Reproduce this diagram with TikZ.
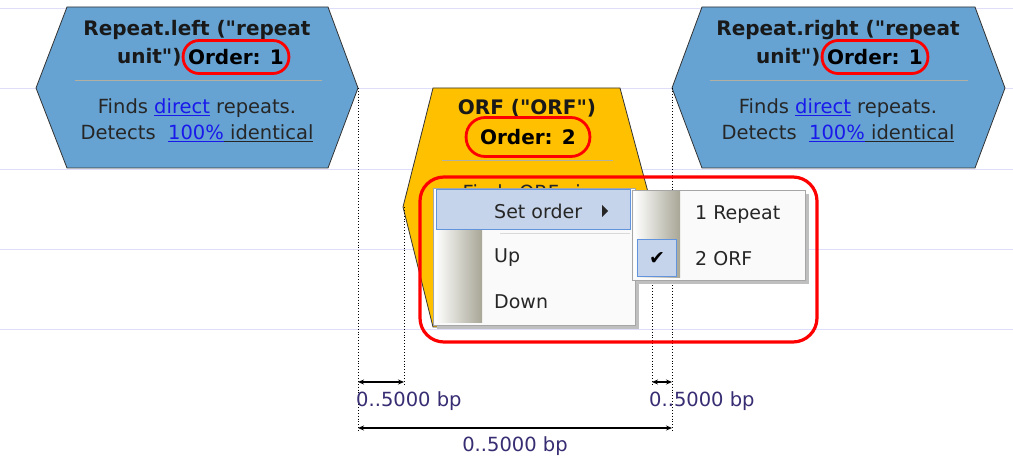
\documentclass[tikz,border=0pt]{standalone}
\usepackage{fontspec}
\setmainfont{DejaVu Sans}
\usetikzlibrary{arrows.meta}
\definecolor{unitblue}{RGB}{102,163,211}
\definecolor{orfgold}{RGB}{255,192,0}
\definecolor{gridline}{RGB}{222,222,250}
\definecolor{sepline}{RGB}{178,176,160}
\definecolor{linkblue}{RGB}{25,25,235}
\definecolor{menubg}{RGB}{250,250,250}
\definecolor{menuhi}{RGB}{197,212,234}
\definecolor{menuframe}{RGB}{98,148,222}
\definecolor{gutterdark}{RGB}{168,166,150}
\definecolor{bptext}{RGB}{55,45,115}
\newcommand{\qd}{\textquotedbl}

\begin{document}
\begin{tikzpicture}[x=1pt,y=-1pt,
  every node/.style={inner sep=0pt},
  titletext/.style={font=\fontsize{20}{23}\selectfont\bfseries, text=black!90},
  bodytext/.style={font=\fontsize{19.5}{22}\selectfont, text=black!85},
  menutext/.style={font=\fontsize{19}{22}\selectfont, text=black!85, anchor=west},
  ordertag/.style={draw=red, line width=2.8pt, rounded corners=16pt, inner xsep=5pt,
    minimum height=33pt, font=\fontsize{20}{23}\selectfont\bfseries},
  unitbox/.style={fill=unitblue, draw=black!80, line width=0.8pt},
  orfbox/.style={fill=orfgold, draw=black!80, line width=0.8pt},
  dotline/.style={dotted, line width=0.9pt},
  dimarrow/.style={{Stealth[length=6pt,width=5pt]}-{Stealth[length=6pt,width=5pt]}, line width=1.2pt},
  bplabel/.style={font=\fontsize{19.5}{22}\selectfont, text=bptext}]
\useasboundingbox (0,0) rectangle (1013,457);
\fill[white] (0,0) rectangle (1013,457);
\foreach \gy in {9,89,170,250,330}
  \draw[gridline, line width=1pt] (0,\gy) -- (1013,\gy);

\draw[unitbox] (36,88) -- (67,7) -- (328,7) -- (358,88) -- (328,168) -- (67,168) -- cycle;
\draw[unitbox] (672,88) -- (702,7) -- (975,7) -- (1005,88) -- (975,168) -- (702,168) -- cycle;
\draw[orfbox] (403,207) -- (433,88) -- (620,88) -- (652,207) -- (620,327) -- (433,327) -- cycle;

\node[titletext] (lt1) at (197,30) {Repeat.left (\qd repeat};
\node[ordertag] (lord) at (236,57) {Order: 1};
\node[titletext, anchor=east] (lt2) at (lord.west) {unit\qd)};
\draw[sepline, line width=1pt] (75,81) -- (322,81);
\node[bodytext] (lb1) at (197,108) {Finds \textcolor{linkblue}{\underline{direct}} repeats.};
\node[bodytext] (lb2) at (197,133) {Detects \ \textcolor{linkblue}{\underline{100\%}}\underline{\ identical}};

\node[titletext] (rt1) at (838,30) {Repeat.right (\qd repeat};
\node[ordertag] (rord) at (875,57) {Order: 1};
\node[titletext, anchor=east] (rt2) at (rord.west) {unit\qd)};
\draw[sepline, line width=1pt] (710,81) -- (968,81);
\node[bodytext] (rb1) at (838,108) {Finds \textcolor{linkblue}{\underline{direct}} repeats.};
\node[bodytext] (rb2) at (838,133) {Detects \ \textcolor{linkblue}{\underline{100\%}}\underline{\ identical}};

\node[titletext] (ot1) at (527,108) {ORF (\qd ORF\qd)};
\node[ordertag, inner xsep=14pt, minimum height=39pt, rounded corners=19pt] (oord) at (528,137) {Order: 2};
\draw[sepline, line width=1pt] (442,161) -- (613,161);
\begin{scope}
\clip (410,165) rectangle (650,188);
\node[bodytext] (ob1) at (528,192) {Finds ORFs in};
\end{scope}

\coordinate (lr) at (358,88);
\coordinate (ol) at (404,207);
\coordinate (or) at (652,207);
\coordinate (rl) at (672,88);
\coordinate (lrup) at (358,382);
\coordinate (olup) at (404,382);
\coordinate (orup) at (652,382);
\coordinate (rlup) at (672,382);
\coordinate (lrlow) at (358,428);
\coordinate (rllow) at (672,428);
\draw[dotline] (lr) -- (358,432);
\draw[dotline] (ol) -- (404,386);
\draw[dotline] (or) -- (652,386);
\draw[dotline] (rl) -- (672,432);

\fill[black!25] (437,192) rectangle (639,329);
\draw[fill=menubg, draw=black!35] (433,188) rectangle (635,325);
\shade[left color=white, right color=gutterdark] (435,190) rectangle (482,323);
\draw[fill=menuhi, draw=menuframe, line width=1pt] (436,190) rectangle (630,230);
\draw[black!15] (500,233) -- (630,233);
\node[menutext] (setorder) at (494,211) {Set order};
\fill[black!85] (602,205) -- (608,211) -- (602,217) -- cycle;
\node[menutext] (up) at (494,258) {Up};
\node[menutext] (down) at (494,302) {Down};

\fill[black!25] (636,194) rectangle (809,284);
\draw[fill=menubg, draw=black!35] (632,190) rectangle (805,280);
\shade[left color=white, right color=gutterdark] (634,192) rectangle (680,278);
\draw[fill=menuhi, draw=menuframe, line width=1pt] (637,240) rectangle (676,277);
\node[font=\fontsize{19}{22}\selectfont, text=black] (tick) at (657,259) {✔};
\node[menutext] (rep) at (695,215) {1 Repeat};
\node[menutext] (orf) at (695,259) {2 ORF};

\draw[red, line width=3.2pt, rounded corners=24pt] (420,177) rectangle (817,342);

\draw[dimarrow] (lrup) -- (olup);
\draw[dimarrow] (orup) -- (rlup);
\draw[dimarrow] (lrlow) -- (rllow);
\node[bplabel, anchor=west] (bp1) at (356,401) {0..5000 bp};
\node[bplabel, anchor=west] (bp2) at (649,401) {0..5000 bp};
\node[bplabel] (bp3) at (515,446) {0..5000 bp};
\end{tikzpicture}
\end{document}
